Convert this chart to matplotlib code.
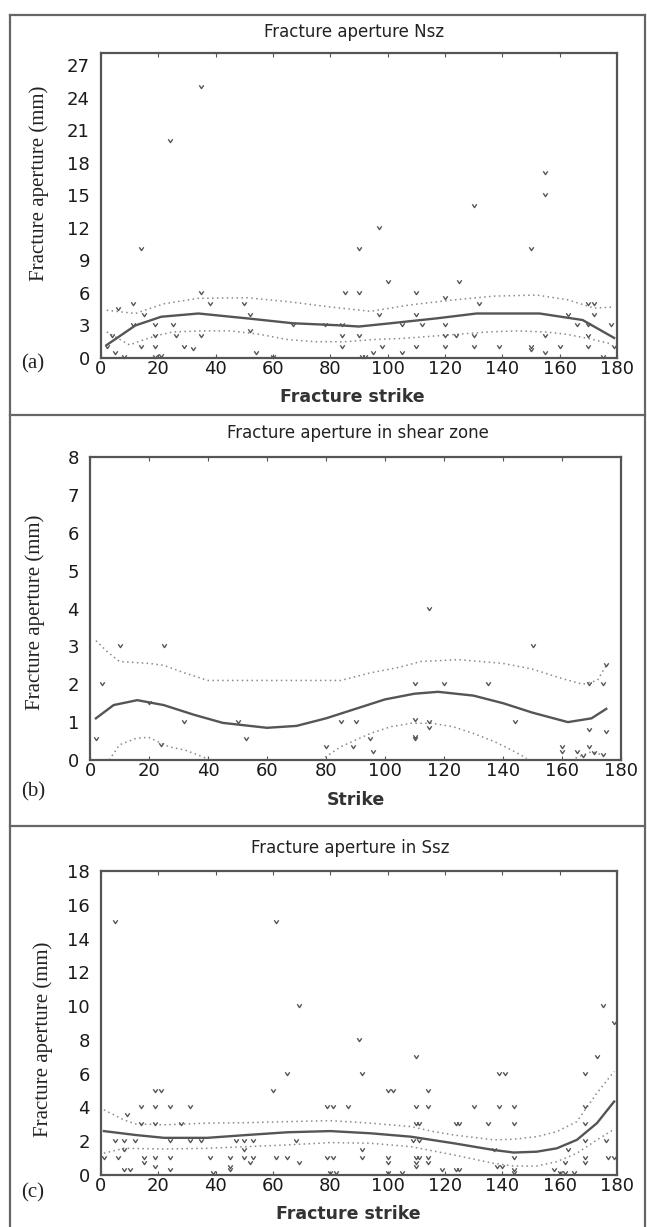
import numpy as np
import matplotlib.pyplot as plt
from matplotlib.path import Path
from matplotlib.lines import Line2D

# ---- panel (a): fracture aperture Nsz ----
a_pts_x = [35, 24, 14, 90, 97, 130, 155, 155, 150, 100, 125, 35, 85, 90, 110, 11, 6, 38, 50,
           132, 120, 170, 172, 172, 163, 110, 97, 52, 15,
           11, 19, 25, 67, 78, 84, 105, 112, 120, 166, 170, 178,
           4, 19, 26, 35, 52, 84, 90, 120, 124, 130, 155, 170,
           2, 14, 19, 29, 32, 84, 98, 110, 120, 130, 139, 150, 160, 170, 179,
           5, 95, 105, 155, 150, 54,
           8, 19, 21, 60, 91, 92, 175]
a_pts_y = [25, 20, 10, 10, 12, 14, 17, 15, 10, 7, 7, 6, 6, 6, 6, 5, 4.5, 5, 5,
           5, 5.5, 5, 5, 4, 4, 4, 4, 4, 4,
           3, 3, 3, 3, 3, 3, 3, 3, 3, 3, 3, 3,
           2, 2, 2, 2, 2.5, 2, 2, 2, 2, 2, 2, 2,
           1, 1, 1, 1, 0.8, 1, 1, 1, 1, 1, 1, 1, 1, 1, 1,
           0.5, 0.5, 0.5, 0.5, 0.7, 0.5,
           0.1, 0.1, 0.2, 0.1, 0.1, 0.1, 0.1]
a_fit_x = [2, 7, 12, 21, 34, 51, 67, 84, 90, 101, 117, 131, 153, 168, 179]
a_fit_y = [1.2, 2.1, 3.0, 3.8, 4.1, 3.65, 3.2, 3.0, 2.9, 3.2, 3.65, 4.1, 4.1, 3.5, 1.85]
a_up_x = [2, 12, 22, 34, 51, 65, 80, 94, 108, 123, 137, 152, 163, 172, 179]
a_up_y = [4.4, 4.1, 5.0, 5.5, 5.55, 5.2, 4.7, 4.3, 4.9, 5.35, 5.7, 5.8, 5.35, 4.6, 4.7]
a_lo_x = [2, 6, 10, 14, 20, 25, 35, 45, 55, 65, 75, 85, 95, 105, 115, 125, 135, 145, 155, 162, 170, 178]
a_lo_y = [2.4, 1.8, 1.2, 1.6, 2.1, 2.4, 2.5, 2.5, 2.2, 1.7, 1.5, 1.5, 1.7, 1.8, 2.0, 2.2, 2.4, 2.5, 2.4, 2.2, 1.8, 1.3]

# ---- panel (b): shear zone ----
b_pts_x = [115, 10, 25, 150, 4, 110, 120, 135, 169, 174, 175, 20, 32, 50, 85, 90, 110, 115,
           115, 144, 169, 175, 2, 53, 95, 110, 110, 24, 80, 89, 160, 169, 96, 160, 165, 171,
           174, 167]
b_pts_y = [4, 3, 3, 3, 2, 2, 2, 2, 2, 2, 2.5, 1.5, 1, 1, 1, 1, 1.05, 1,
           0.85, 1, 0.8, 0.75, 0.55, 0.55, 0.55, 0.55, 0.6, 0.4, 0.35, 0.35, 0.35, 0.35, 0.2,
           0.2, 0.2, 0.18, 0.13, 0.1]
b_fit_x = [2, 8, 16, 25, 35, 45, 60, 70, 80, 90, 100, 110, 118, 130, 140, 150, 162, 170, 175]
b_fit_y = [1.1, 1.45, 1.58, 1.45, 1.2, 0.98, 0.85, 0.9, 1.1, 1.35, 1.6, 1.75, 1.8, 1.7, 1.5,
           1.25, 1.0, 1.1, 1.35]
b_up_x = [2, 6, 10, 20, 25, 32, 40, 60, 85, 95, 105, 112, 125, 140, 150, 160, 167, 172, 175]
b_up_y = [3.15, 2.85, 2.6, 2.55, 2.5, 2.3, 2.1, 2.1, 2.1, 2.3, 2.45, 2.6, 2.65, 2.55, 2.4,
          2.15, 2.0, 2.1, 2.5]
b_lo_x = [6.5, 10, 15.6, 19.8, 26.7, 32.3, 39.3, np.nan, 78.3, 85, 95, 102, 109, 116, 123,
          130, 137, 144, 148, np.nan, 164.6, 170, 173.7]
b_lo_y = [0, 0.4, 0.57, 0.6, 0.35, 0.26, 0.05, np.nan, 0, 0.35, 0.7, 0.88, 0.97, 0.97, 0.88,
          0.7, 0.49, 0.22, 0.04, np.nan, 0.05, 0.22, 0.13]

# ---- panel (c): Ssz ----
c_pts_x = [5, 61, 69, 90, 110, 175, 179, 173, 65, 91, 139, 141, 169, 19, 21, 60, 100, 102, 114,
           14, 19, 24, 31, 79, 81, 86, 110, 114, 130, 139, 144, 169,
           14, 19, 28, 110, 111, 124, 125, 135, 144, 169, 9,
           5, 8, 12, 24, 31, 35, 47, 50, 53, 68, 109, 111, 169, 176,
           8, 50, 91, 163, 137,
           1, 6, 15, 19, 24, 38, 45, 50, 53, 61, 65, 79, 81, 91, 100, 110, 111, 114, 144, 169,
           177, 179,
           15, 52, 69, 100, 110, 114, 169, 162,
           19, 45, 110, 138, 140,
           8, 10, 24, 45, 119, 124, 125, 144, 158,
           39, 80, 82, 100, 105, 144, 160, 162, 165]
c_pts_y = [15, 15, 10, 8, 7, 10, 9, 7, 6, 6, 6, 6, 6, 5, 5, 5, 5, 5, 5,
           4, 4, 4, 4, 4, 4, 4, 4, 4, 4, 4, 4, 4,
           3, 3, 3, 3, 3, 3, 3, 3, 3, 3, 3.55,
           2, 2, 2, 2, 2, 2, 2, 2, 2, 2, 2, 2, 2, 2,
           1.5, 1.5, 1.5, 1.5, 1.5,
           1, 1, 1, 1, 1, 1, 1, 1, 1, 1, 1, 1, 1, 1, 1, 1, 1, 1, 1, 1, 1, 1,
           0.7, 0.7, 0.7, 0.7, 0.7, 0.7, 0.7, 0.7,
           0.5, 0.5, 0.5, 0.5, 0.5,
           0.3, 0.3, 0.3, 0.3, 0.3, 0.3, 0.3, 0.3, 0.3,
           0.1, 0.1, 0.1, 0.1, 0.1, 0.1, 0.1, 0.1, 0.1]
c_fit_x = [1, 12, 22, 37, 51, 65, 80, 94, 108, 123, 137, 144, 152, 159, 166, 173, 179]
c_fit_y = [2.6, 2.37, 2.2, 2.2, 2.37, 2.53, 2.6, 2.47, 2.27, 1.88, 1.48, 1.33, 1.38, 1.58,
           2.08, 3.07, 4.35]
c_up_x = [1, 8, 12, 22, 37, 51, 65, 80, 94, 108, 116, 123, 137, 144, 152, 159, 166, 173, 179]
c_up_y = [3.86, 3.26, 3.03, 2.97, 3.07, 3.1, 3.16, 3.22, 3.07, 2.87, 2.57, 2.37, 2.08, 2.12,
          2.27, 2.57, 3.16, 4.85, 6.13]
c_lo_x = [1, 8, 22, 37, 51, 65, 80, 94, 108, 123, 137, 144, 152, 159, 166, 173, 179]
c_lo_y = [1.29, 1.58, 1.54, 1.58, 1.68, 1.78, 1.92, 1.88, 1.68, 1.19, 0.69, 0.53, 0.53, 0.79,
          1.29, 2.08, 2.71]

titles = ["Fracture aperture Nsz", "Fracture aperture in shear zone", "Fracture aperture in Ssz"]
xlabels = ["Fracture strike", "Strike", "Fracture strike"]
letters = ["(a)", "(b)", "(c)"]
ylab = "Fracture aperture (mm)"

W, H = 647, 1227
fig = plt.figure(figsize=(W / 100, H / 100), dpi=100)


def fx(px):
    return px / W


def fy(py):
    return 1 - py / H


chevron = Path([(-1, 1), (0, -0.5), (1, 1)], [Path.MOVETO, Path.LINETO, Path.LINETO])

panels = [
    dict(box=(101, 617, 53, 358), ylim=28.1, yticks=np.arange(0, 28, 3),
         pts=(a_pts_x, a_pts_y), fit=(a_fit_x, a_fit_y), up=(a_up_x, a_up_y), lo=(a_lo_x, a_lo_y),
         title=(354, 32), xlab=(352, 397), letter=(33, 364), ylab=(39, 183)),
    dict(box=(90, 621, 457, 760), ylim=8, yticks=np.arange(0, 9, 1),
         pts=(b_pts_x, b_pts_y), fit=(b_fit_x, b_fit_y), up=(b_up_x, b_up_y), lo=(b_lo_x, b_lo_y),
         title=(358, 433), xlab=(356, 800), letter=(33, 792), ylab=(35, 612)),
    dict(box=(101, 617, 871, 1175), ylim=18, yticks=np.arange(0, 19, 2),
         pts=(c_pts_x, c_pts_y), fit=(c_fit_x, c_fit_y), up=(c_up_x, c_up_y), lo=(c_lo_x, c_lo_y),
         title=(350, 848), xlab=(348, 1214), letter=(33, 1193), ylab=(43, 1039)),
]

sans = "DejaVu Sans"
serif = "Liberation Serif"

for i, p in enumerate(panels):
    l, r, t, b = p["box"]
    ax = fig.add_axes([fx(l), fy(b), (r - l) / W, (b - t) / H])
    ax.plot(p["up"][0], p["up"][1], color="#8a8a8a", lw=1.1, ls=(0, (1, 2.2)))
    ax.plot(p["lo"][0], p["lo"][1], color="#8a8a8a", lw=1.1, ls=(0, (1, 2.2)))
    ax.plot(p["fit"][0], p["fit"][1], color="#555555", lw=1.7)
    ax.plot(p["pts"][0], p["pts"][1], ls="none", marker=chevron, ms=3.2,
            mec="#555555", mfc="none", mew=1.0, clip_on=False)
    ax.set_xlim(0, 180)
    ax.set_ylim(0, p["ylim"])
    ax.set_xticks(np.arange(0, 181, 20))
    ax.set_yticks(p["yticks"])
    ax.tick_params(axis="x", direction="in", length=3, top=True, pad=1.5,
                   labelsize=13, labelcolor="#1a1a1a", color="#555555")
    ax.tick_params(axis="y", length=0, pad=8, labelsize=13, labelcolor="#1a1a1a")
    for lab in ax.get_xticklabels() + ax.get_yticklabels():
        lab.set_family(sans)
    for s in ax.spines.values():
        s.set_color("#555555")
        s.set_linewidth(1.6)

    fig.text(fx(p["title"][0]), fy(p["title"][1]), titles[i], family=sans, fontsize=12,
             ha="center", va="center", color="#222222")
    fig.text(fx(p["xlab"][0]), fy(p["xlab"][1]), xlabels[i], family=sans, fontsize=12.5,
             weight="bold", ha="center", va="center", color="#333333")
    fig.text(fx(p["letter"][0]), fy(p["letter"][1]), letters[i], family=serif, fontsize=15,
             ha="center", va="center", color="#222222")
    fig.text(fx(p["ylab"][0]), fy(p["ylab"][1]), ylab, family=serif, fontsize=15,
             rotation=90, ha="center", va="center", color="#222222")

# outer frame and separators
frame_kw = dict(color="#666666", lw=1.6, transform=fig.transFigure)
fig.add_artist(Line2D([fx(10), fx(10)], [fy(15), fy(1226)], **frame_kw))
fig.add_artist(Line2D([fx(645), fx(645)], [fy(15), fy(1226)], **frame_kw))
fig.add_artist(Line2D([fx(10), fx(645)], [fy(15), fy(15)], **frame_kw))
fig.add_artist(Line2D([fx(10), fx(645)], [fy(415), fy(415)], **frame_kw))
fig.add_artist(Line2D([fx(10), fx(645)], [fy(826), fy(826)], **frame_kw))

fig.savefig("out.png", dpi=100)
